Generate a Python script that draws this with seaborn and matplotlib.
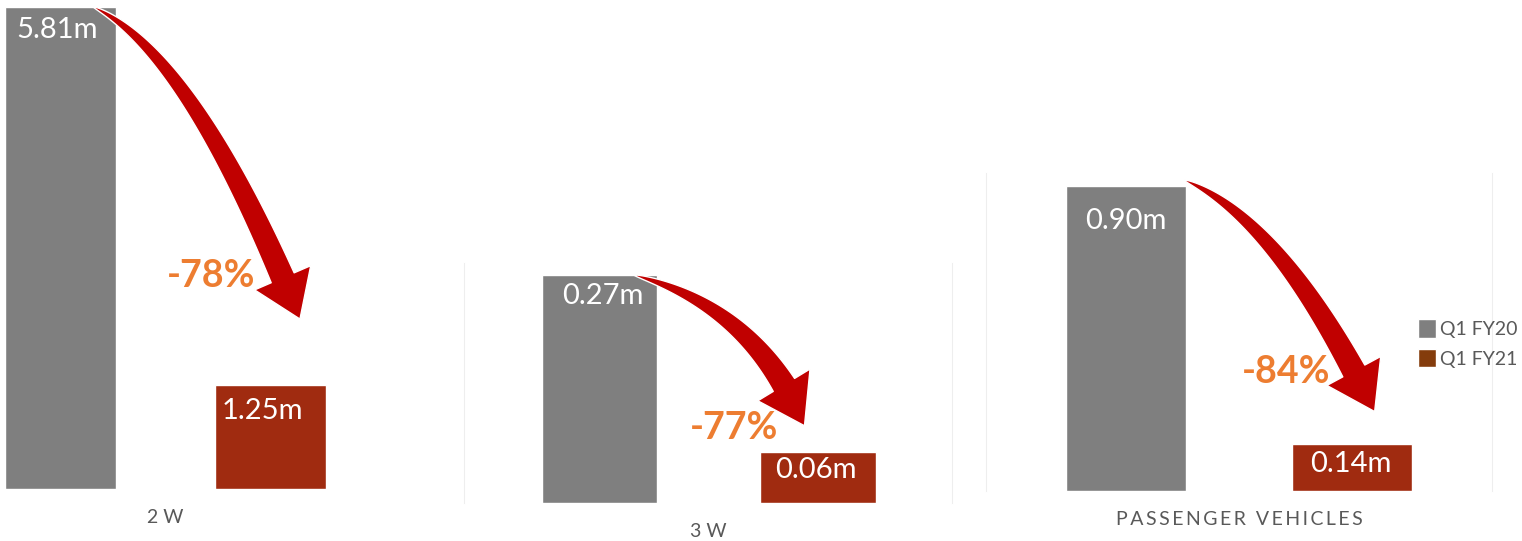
import numpy as np
import pandas as pd
import matplotlib
matplotlib.use("Agg")
import matplotlib.pyplot as plt
import seaborn as sns
from matplotlib.patches import ArrowStyle, FancyArrowPatch, Patch
from matplotlib.path import Path

# ---------------- data ----------------
categories = ["2 W", "3 W", "PASSENGER VEHICLES"]
periods = ["Q1 FY20", "Q1 FY21"]
q1_fy20 = [5.81, 0.27, 0.90]
q1_fy21 = [1.25, 0.06, 0.14]
change_labels = ["-78%", "-77%", "-84%"]

# ---------------- styles ----------------
GRAY = "#7F7F7F"
BRICK = "#A02B10"
LEGEND_BRICK = "#843C0C"
RED = "#C00000"
ORANGE = "#ED7D31"
TEXT = "#595959"
FRAME = "#EEEEEE"

sns.set_theme(style="white")
plt.rcParams["font.family"] = ["Lato", "DejaVu Sans"]

W, H = 1522, 541
PX = 72 / 100  # pixels -> points
fig = plt.figure(figsize=(W / 100, H / 100), dpi=100)
fig.patch.set_facecolor("white")

# layout (pixels): x0, x1, ytop, ybottom
panel_boxes = [(0, 464, 6.9, 489), (464, 952, 263, 503), (986, 1492, 173, 491)]
panel_xlims = [(-0.288, 1.921), (-0.62, 1.613), (-0.619, 1.619)]
panel_ytop = [1.0, 1.053, 1.042]
panel_frame = [False, True, True]
# value label offsets (px): (dx, baseline below bar top)
label_offsets = [[(-3, 31), (-8, 34)], [(3, 29), (-2, 26)], [(0, 43), (-1, 28)]]
# percent label position (axes fraction, baseline)
pct_pos = [(0.456, 0.42), (0.553, 0.265), (0.593, 0.341)]
# arrows: start (x, y as multiple of FY20), tip (x, y as fraction between FY21 and FY20)
arrow_start = [(0.156, 1.0), (0.158, 1.0), (0.257, 1.019)]
arrow_tip = [(1.14, 0.175), (0.938, 0.150), (1.10, 0.124)]
arrow_angles = [(-25, -67.9), (-15, -67.6), (-22, -63.9)]


def spaced(s):
    return s if len(s) <= 3 else "\u2009".join(list(s))


class TaperArrow(ArrowStyle._Base):
    """Curved arrow whose tail starts at a point and widens into a head."""

    def __init__(self, head_length=3.3, head_width=4.4, tail_width=1.75):
        self.head_length = head_length
        self.head_width = head_width
        self.tail_width = tail_width
        super().__init__()

    def transmute(self, path, mutation_size, linewidth):
        x0, y0, x1, y1, x2, y2 = self.ensure_quadratic_bezier(path)
        p0, p1, p2 = np.array([x0, y0]), np.array([x1, y1]), np.array([x2, y2])
        t = np.linspace(0, 1, 400)[:, None]
        pts = (1 - t) ** 2 * p0 + 2 * (1 - t) * t * p1 + t ** 2 * p2
        tan = 2 * (1 - t) * (p1 - p0) + 2 * t * (p2 - p1)
        tan = tan / np.linalg.norm(tan, axis=1, keepdims=True)
        nrm = np.column_stack([-tan[:, 1], tan[:, 0]])
        hl = self.head_length * mutation_size
        k = int(np.argmax(np.linalg.norm(pts - p2, axis=1) <= hl))
        k = max(k, 2)
        s = np.linspace(0, 1, k + 1)[:, None]
        half = 0.5 * self.tail_width * mutation_size * s ** 0.65
        left = pts[:k + 1] + nrm[:k + 1] * half
        right = pts[:k + 1] - nrm[:k + 1] * half
        hw = 0.5 * self.head_width * mutation_size
        base, bn = pts[k], nrm[k]
        verts = np.vstack([left, base + bn * hw, p2, base - bn * hw,
                           right[::-1], left[:1]])
        codes = [Path.MOVETO] + [Path.LINETO] * (len(verts) - 2) + [Path.CLOSEPOLY]
        return Path(verts, codes), True


for i, cat in enumerate(categories):
    x0, x1, yt, yb = panel_boxes[i]
    ax = fig.add_axes([x0 / W, 1 - yb / H, (x1 - x0) / W, (yb - yt) / H])
    ax.set_facecolor("none")
    df = pd.DataFrame({"period": periods, "value": [q1_fy20[i], q1_fy21[i]]})
    sns.barplot(data=df, x="period", y="value", hue="period", order=periods,
                hue_order=periods, palette=[GRAY, BRICK], width=0.53,
                saturation=1, errorbar=None, legend=False, ax=ax)

    # value labels inside bars
    for j, v in enumerate(df["value"]):
        dx, dy = label_offsets[i][j]
        ax.annotate(f"{v:.2f}m", xy=(j, v), xytext=(dx * PX, -dy * PX),
                    textcoords="offset points", ha="center", va="baseline",
                    color="white", fontsize=21, annotation_clip=False, zorder=4)

    # curved drop arrow
    v20, v21 = q1_fy20[i], q1_fy21[i]
    sx, sy = arrow_start[i]
    tx, ty = arrow_tip[i]
    aA, aB = arrow_angles[i]
    arrow = FancyArrowPatch(
        posA=(sx, sy * v20), posB=(tx, v21 + ty * (v20 - v21)),
        arrowstyle=TaperArrow(head_length=3.3, head_width=4.4, tail_width=1.8),
        connectionstyle=f"angle3,angleA={aA},angleB={aB}",
        mutation_scale=10, shrinkA=0, shrinkB=0,
        facecolor=RED, edgecolor="white", linewidth=1.0,
        transform=ax.transData, clip_on=False, zorder=5)
    ax.add_patch(arrow)

    # percent change
    px_, py_ = pct_pos[i]
    ax.text(px_, py_, change_labels[i], transform=ax.transAxes, ha="center",
            va="baseline", fontsize=27, fontweight="bold", color=ORANGE, zorder=6)

    # category label
    ax.annotate(spaced(cat), xy=(0.5, 0), xycoords=("data", "axes fraction"),
                xytext=(0, -34 * PX), textcoords="offset points", ha="center",
                va="baseline", fontsize=14, color=TEXT, annotation_clip=False)

    ax.set_xlim(*panel_xlims[i])
    ax.set_ylim(0, max(v20, v21) * panel_ytop[i])
    ax.set_xticks([])
    ax.set_yticks([])
    ax.set_xlabel("")
    ax.set_ylabel("")
    for side in ["top", "bottom"]:
        ax.spines[side].set_visible(False)
    for side in ["left", "right"]:
        ax.spines[side].set_visible(panel_frame[i])
        ax.spines[side].set_color(FRAME)
        ax.spines[side].set_linewidth(0.8)

handles = [Patch(facecolor=GRAY), Patch(facecolor=LEGEND_BRICK)]
fig.legend(handles, periods, loc="upper left", bbox_to_anchor=(1418 / W, 1 - 319 / H),
           frameon=False, fontsize=14, handlelength=0.95, handleheight=1.1,
           handletextpad=0.2, labelspacing=0.55, borderpad=0, borderaxespad=0,
           labelcolor=TEXT)

fig.savefig("out.png", dpi=100, facecolor="white")
